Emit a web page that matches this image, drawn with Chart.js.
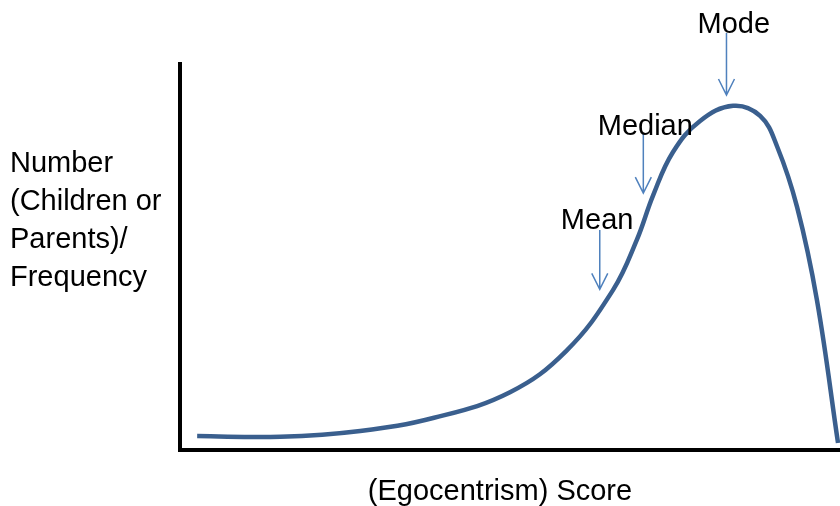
<!DOCTYPE html>
<html>
<head>
<meta charset="utf-8">
<script src="https://cdn.jsdelivr.net/npm/chart.js@4.4.0/dist/chart.umd.min.js"></script>
<style>
  html, body { margin: 0; padding: 0; background: #fff; }
  #wrap { width: 840px; height: 506px; }
</style>
</head>
<body>
<div id="wrap"><canvas id="curveChart"></canvas></div>
<script>
// Curve data (score 0-100, frequency 0-100)
const scores = [2.6, 15.2, 27.3, 38.5, 50.0, 58.5, 65.6, 69.2, 71.7, 74.7, 78.8, 83.8, 87.9, 90.5, 93.5, 96.5, 99.7];
const freqs  = [3.6, 3.4, 4.9, 8.3, 14.9, 25.5, 41.2, 54.1, 65.7, 76.8, 84.8, 88.7, 86.1, 78.1, 62.6, 38.7, 1.8];

// Markers: label, arrow score, arrow top / tip, label position (frequency units)
const markerLabels = ['Mean', 'Median', 'Mode'];
const markerScores = [63.6, 70.2, 82.8];
const markerTops   = [56.7, 81.7, 107.5];
const markerTips   = [41.4, 66.2, 91.5];
const labelScores  = [63.2, 70.5, 83.9];
const labelBases   = [56.9, 81.2, 107.6];

const yTitle = ['Number', '(Children or', 'Parents)/', 'Frequency'];
const xTitle = '(Egocentrism) Score';

const FONT = "29px 'Liberation Sans', Arial, sans-serif";

const decorPlugin = {
    id: 'decor',
    afterDraw(chart) {
        const ctx = chart.ctx;
        const area = chart.chartArea;
        const xs = chart.scales.x, ys = chart.scales.y;
        ctx.save();

        // axes
        ctx.fillStyle = '#000';
        ctx.fillRect(area.left - 2, area.top, 4, area.bottom - area.top + 2);
        ctx.fillRect(area.left - 2, area.bottom - 2, area.right - area.left + 2, 4);

        // arrows + labels
        ctx.strokeStyle = '#4F81BD';
        ctx.lineWidth = 1.5;
        ctx.font = FONT;
        ctx.fillStyle = '#000';
        ctx.textAlign = 'center';
        ctx.textBaseline = 'alphabetic';
        markerLabels.forEach((lbl, i) => {
            const x = xs.getPixelForValue(markerScores[i]);
            const y0 = ys.getPixelForValue(markerTops[i]);
            const y1 = ys.getPixelForValue(markerTips[i]);
            ctx.beginPath();
            ctx.moveTo(x, y0);
            ctx.lineTo(x, y1);
            ctx.moveTo(x - 8, y1 - 16);
            ctx.lineTo(x, y1);
            ctx.lineTo(x + 8, y1 - 16);
            ctx.stroke();
            ctx.fillText(lbl, xs.getPixelForValue(labelScores[i]), ys.getPixelForValue(labelBases[i]));
        });

        // axis titles
        ctx.textAlign = 'left';
        yTitle.forEach((t, i) => ctx.fillText(t, 10, 172 + i * 38));
        ctx.textAlign = 'center';
        ctx.fillText(xTitle, 500, 500);

        ctx.restore();
    }
};

const ctxCurve = document.getElementById('curveChart').getContext('2d');
const curveChart = new Chart(ctxCurve, {
    type: 'scatter',
    data: {
        datasets: [{
            data: scores.map((s, i) => ({ x: s, y: freqs[i] })),
            showLine: true,
            borderColor: '#3A5F8E',
            borderWidth: 4.5,
            pointRadius: 0,
            tension: 0.4,
            fill: false
        }]
    },
    options: {
        responsive: true,
        maintainAspectRatio: false,
        animation: false,
        devicePixelRatio: 1,
        layout: { padding: { left: 180, top: 62, right: 0, bottom: 56 } },
        scales: {
            x: { type: 'linear', min: 0, max: 100, display: false },
            y: { min: 0, max: 100, display: false }
        },
        plugins: {
            legend: { display: false },
            tooltip: { enabled: false }
        },
        clip: false
    },
    plugins: [decorPlugin]
});
</script>
</body>
</html>
